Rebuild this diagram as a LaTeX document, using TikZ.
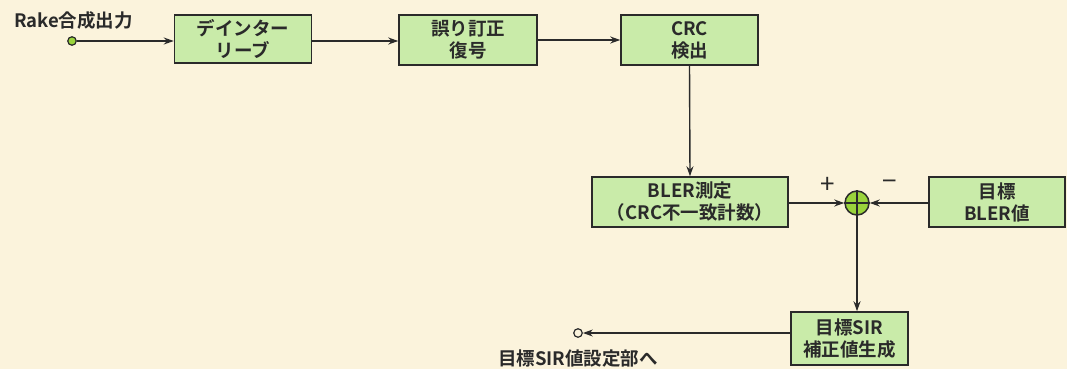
\documentclass[tikz,border=0pt]{standalone}
\usepackage{fontspec}
\setmainfont{Noto Sans CJK JP}[BoldFont={Noto Sans CJK JP Bold}]
\usetikzlibrary{arrows.meta}
\definecolor{bg}{HTML}{FBF3DC}
\definecolor{boxfill}{HTML}{C9EBA9}
\definecolor{sumfill}{HTML}{9AD43C}
\definecolor{edge}{HTML}{2A2A2A}
\tikzset{
  blk/.style={draw=edge, line width=1.5pt, fill=boxfill, align=center, inner sep=0pt,
    font=\fontsize{18.5}{22}\selectfont\bfseries, text=edge},
  conn/.style={draw=edge, line width=1.4pt, -{Stealth[length=10pt,width=7pt]}},
  lbl/.style={font=\fontsize{18.5}{22}\selectfont\bfseries, text=edge, inner sep=0pt},
  term/.style={circle, draw=edge, line width=1.2pt, inner sep=0pt, minimum size=8.5pt}
}
\begin{document}
\begin{tikzpicture}[x=1pt,y=-1pt]
\useasboundingbox[fill=bg] (0,0) rectangle (1067,369);
\node[blk, minimum width=137pt, minimum height=48pt] (deint) at (243,39) {デインター\\リーブ};
\node[blk, minimum width=138pt, minimum height=50pt] (ecc) at (468,40) {誤り訂正\\復号};
\node[blk, minimum width=137pt, minimum height=50pt] (crc) at (689.5,40) {CRC\\検出};
\node[blk, minimum width=196pt, minimum height=50pt] (bler) at (690,202) {BLER測定\\（CRC不一致計数）};
\node[blk, minimum width=136pt, minimum height=50pt] (tgt) at (997,202) {目標\\BLER値};
\node[blk, minimum width=117pt, minimum height=53pt] (sir) at (849.5,338.5) {目標SIR\\補正値生成};
\node[circle, draw=edge, line width=1.5pt, fill=sumfill, minimum size=24pt, inner sep=0pt] (sum) at (857,203) {};
\draw[edge, line width=1.5pt] (sum.north) -- (sum.south) (sum.west) -- (sum.east);
\node[term, fill=sumfill] (in) at (72,41) {};
\node[term, fill=bg] (out) at (578,333) {};
\node[lbl] (rake) at (73.5,20) {Rake合成出力};
\node[lbl] (outlbl) at (578,359) {目標SIR値設定部へ};
\node[lbl, font=\fontsize{26}{26}\selectfont] (plus) at (828,185) {+};
\node[lbl, font=\fontsize{26}{26}\selectfont] (minus) at (890,185) {−};
\draw[conn] (in) -- (in -| deint.west);
\draw[conn] (deint.east |- in) -- (ecc.west |- in);
\draw[conn] (ecc.east) -- (crc.west);
\draw[conn] (crc.south) -- (bler.north);
\draw[conn] (bler.east |- sum) -- (sum.west);
\draw[conn] (tgt.west |- sum) -- (sum.east);
\draw[conn] (sum.south) -- (sum.south |- sir.north);
\draw[conn] (sir.west |- out) -- (out.east);
\end{tikzpicture}
\end{document}
